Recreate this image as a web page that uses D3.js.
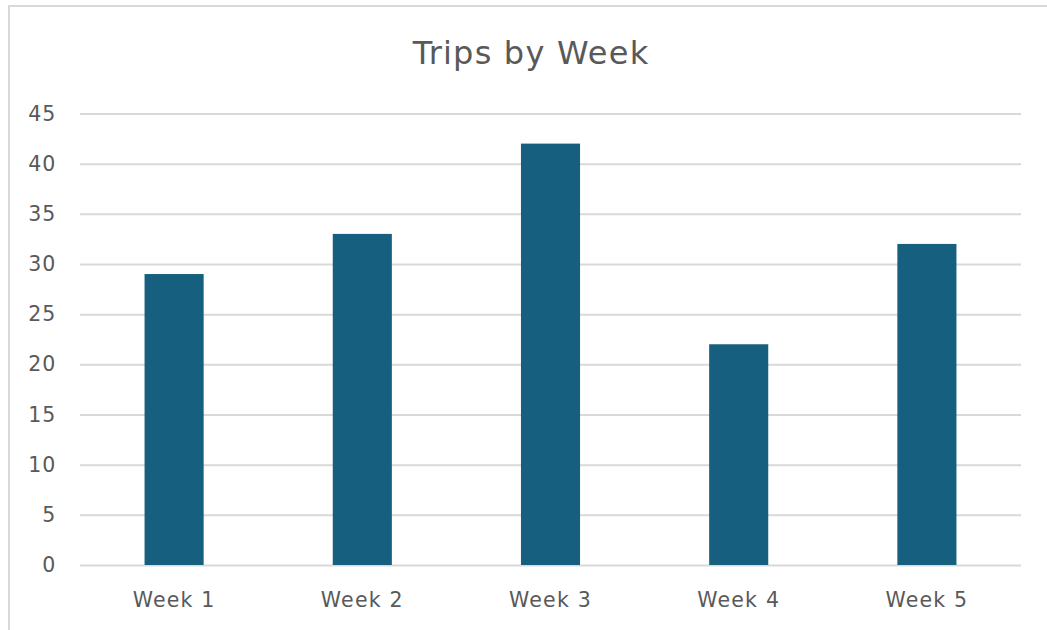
<!DOCTYPE html>
<html><head><meta charset="utf-8">
<script src="https://cdn.jsdelivr.net/npm/d3@7"></script>
<style>
html,body{margin:0;padding:0;background:#fff;}
text{font-family:"DejaVu Sans",Arial,sans-serif;}
</style></head>
<body><svg id="c" width="1047" height="630"></svg>
<script>
const categories = ["Week 1","Week 2","Week 3","Week 4","Week 5"];
const trips = [29, 33, 42, 22, 32];
const yTicks = [0,5,10,15,20,25,30,35,40,45];
const title = "Trips by Week";

(function(){
const FONT = "DejaVu Sans, Arial, sans-serif";
const svg = d3.select("#c");
svg.append("rect").attr("x",0).attr("y",0).attr("width",1047).attr("height",630).attr("fill","#fff");
svg.append("rect").attr("x",9).attr("y",6).attr("width",1060).attr("height",640)
  .attr("fill","#fff").attr("stroke","#d9d9d9").attr("stroke-width",2);

const pL=80, pR=1021, pT=113.5, pB=565;
const x = d3.scaleBand().domain(categories).range([pL,pR]).paddingInner(0.686).paddingOuter(0.343);
const y = d3.scaleLinear().domain([0,45]).range([pB,pT]);

svg.append("text").attr("x",531).attr("y",64).attr("text-anchor","middle")
  .attr("font-size",32).attr("letter-spacing",1.2).attr("fill","#595959").attr("font-family",FONT).text(title);

const yAxis = svg.append("g").attr("transform",`translate(${pL},0)`)
  .call(d3.axisLeft(y).tickValues(yTicks).tickSize(-(pR-pL)).tickPadding(24));
yAxis.select(".domain").remove();
yAxis.selectAll(".tick line").attr("stroke","#d9d9d9").attr("stroke-width",2);
yAxis.selectAll(".tick text").attr("font-size",20.5).attr("letter-spacing",0.8).attr("fill","#595959")
  .attr("font-family",FONT);

svg.append("g").selectAll("rect").data(trips).join("rect")
  .attr("x",(d,i)=>x(categories[i])).attr("width",x.bandwidth())
  .attr("y",d=>y(d)).attr("height",d=>y(0)-y(d))
  .attr("fill","#175f7f");

const xAxis = svg.append("g").attr("transform",`translate(0,${pB})`)
  .call(d3.axisBottom(x).tickSize(0).tickPadding(27));
xAxis.select(".domain").remove();
xAxis.selectAll(".tick text").attr("font-size",20.5).attr("letter-spacing",1.2).attr("fill","#595959")
  .attr("font-family",FONT);
})();
</script></body></html>
